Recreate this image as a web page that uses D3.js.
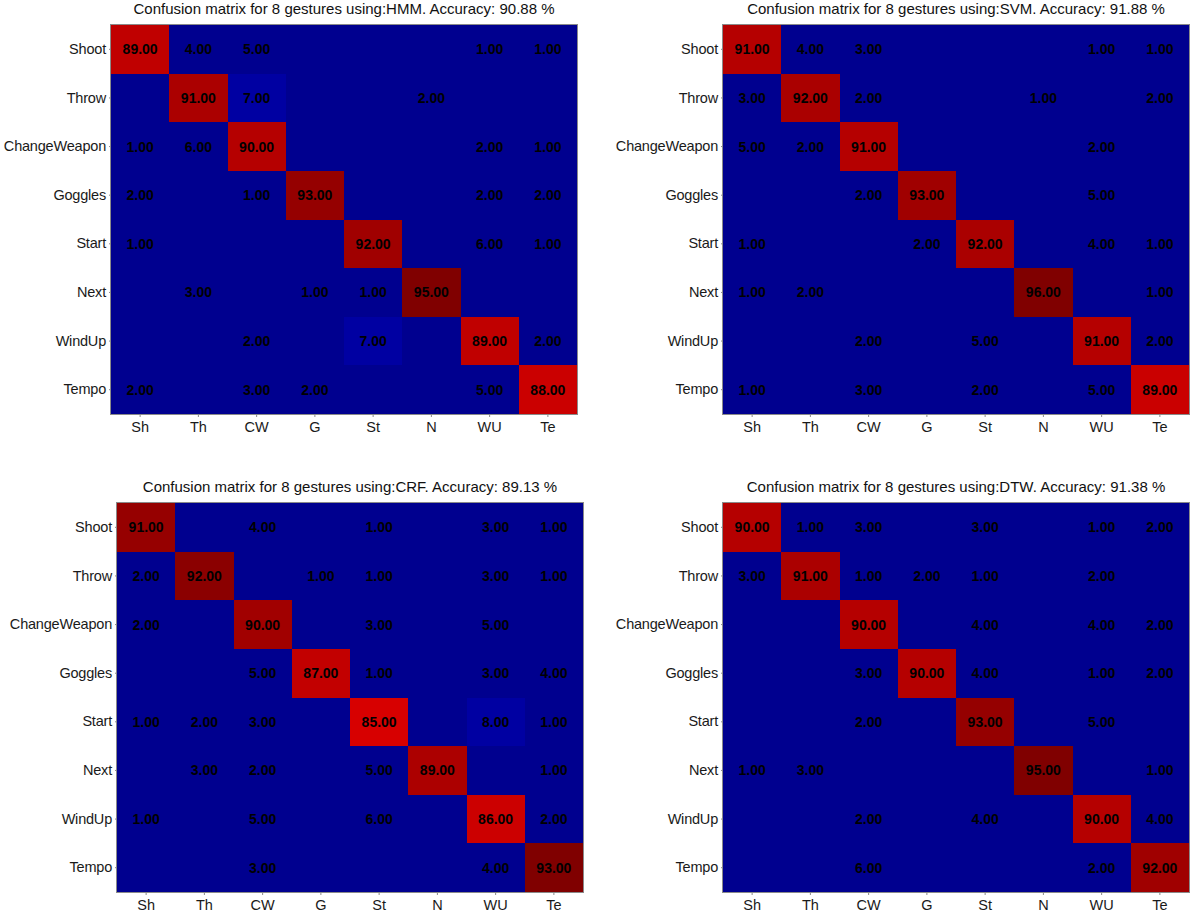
<!DOCTYPE html>
<html>
<head>
<meta charset="utf-8">
<script src="https://cdn.jsdelivr.net/npm/d3@7"></script>
<style>
  body { margin: 0; background: #fff; }
  svg { display: block; font-family: "Liberation Sans", Arial, sans-serif; }
</style>
</head>
<body>
<div id="chart"></div>
<script>
// gesture names (rows) and short names (columns)
const rowLabels = ["Shoot", "Throw", "ChangeWeapon", "Goggles", "Start", "Next", "WindUp", "Tempo"];
const colLabels = ["Sh", "Th", "CW", "G", "St", "N", "WU", "Te"];

const methods = ["HMM", "SVM", "CRF", "DTW"];
const accuracies = [90.88, 91.88, 89.13, 91.38];

// confusion matrices, rows = true gesture, values in %
const hmm = [
  [89, 4, 5, 0, 0, 0, 1, 1],
  [0, 91, 7, 0, 0, 2, 0, 0],
  [1, 6, 90, 0, 0, 0, 2, 1],
  [2, 0, 1, 93, 0, 0, 2, 2],
  [1, 0, 0, 0, 92, 0, 6, 1],
  [0, 3, 0, 1, 1, 95, 0, 0],
  [0, 0, 2, 0, 7, 0, 89, 2],
  [2, 0, 3, 2, 0, 0, 5, 88]
];
const svm = [
  [91, 4, 3, 0, 0, 0, 1, 1],
  [3, 92, 2, 0, 0, 1, 0, 2],
  [5, 2, 91, 0, 0, 0, 2, 0],
  [0, 0, 2, 93, 0, 0, 5, 0],
  [1, 0, 0, 2, 92, 0, 4, 1],
  [1, 2, 0, 0, 0, 96, 0, 1],
  [0, 0, 2, 0, 5, 0, 91, 2],
  [1, 0, 3, 0, 2, 0, 5, 89]
];
const crf = [
  [91, 0, 4, 0, 1, 0, 3, 1],
  [2, 92, 0, 1, 1, 0, 3, 1],
  [2, 0, 90, 0, 3, 0, 5, 0],
  [0, 0, 5, 87, 1, 0, 3, 4],
  [1, 2, 3, 0, 85, 0, 8, 1],
  [0, 3, 2, 0, 5, 89, 0, 1],
  [1, 0, 5, 0, 6, 0, 86, 2],
  [0, 0, 3, 0, 0, 0, 4, 93]
];
const dtw = [
  [90, 1, 3, 0, 3, 0, 1, 2],
  [3, 91, 1, 2, 1, 0, 2, 0],
  [0, 0, 90, 0, 4, 0, 4, 2],
  [0, 0, 3, 90, 4, 0, 1, 2],
  [0, 0, 2, 0, 93, 0, 5, 0],
  [1, 3, 0, 0, 0, 95, 0, 1],
  [0, 0, 2, 0, 4, 0, 90, 4],
  [0, 0, 6, 0, 0, 0, 2, 92]
];
const matrices = [hmm, svm, crf, dtw];

const W = 1192, H = 913;
const plotW = 466, plotH = 389;
// top-left corner of each plot area
const origins = [[111, 25], [723, 25], [117, 503], [723, 503]];

const svg = d3.select("#chart").append("svg")
  .attr("width", W)
  .attr("height", H);

const drawPanel = (idx) => {
  const data = matrices[idx];
  const [ox, oy] = origins[idx];
  const maxValue = d3.max(data.flat());

  // jet-like colours, scaled per panel by its max
  const blue = d3.scaleThreshold().domain([0.07]).range(["#00008f", "#0000a2"]);
  const red = d3.scaleLinear().domain([0.875, 1]).range(["#ff0000", "#800000"]).clamp(true);
  const color = (v) => {
    const t = v / maxValue;
    return t < 0.5 ? blue(t) : red(t);
  };

  const x = d3.scaleBand().domain(colLabels).range([0, plotW]);
  const y = d3.scaleBand().domain(rowLabels).range([0, plotH]);

  const g = svg.append("g").attr("transform", `translate(${ox},${oy})`);

  const cells = [];
  data.forEach((row, i) => row.forEach((v, j) => cells.push({ r: rowLabels[i], c: colLabels[j], v })));

  // background first so no seams show between cells
  g.append("rect")
    .attr("width", plotW)
    .attr("height", plotH)
    .attr("fill", color(0))
    .attr("shape-rendering", "crispEdges");

  g.selectAll("rect.cell")
    .data(cells.filter((d) => d.v / maxValue >= 0.07))
    .enter()
    .append("rect")
    .attr("class", "cell")
    .attr("x", (d) => x(d.c))
    .attr("y", (d) => y(d.r))
    .attr("width", x.bandwidth())
    .attr("height", y.bandwidth())
    .attr("shape-rendering", "crispEdges")
    .attr("fill", (d) => color(d.v));

  g.selectAll("text.val")
    .data(cells.filter((d) => d.v > 0))
    .enter()
    .append("text")
    .attr("class", "val")
    .attr("x", (d) => x(d.c) + x.bandwidth() / 2)
    .attr("y", (d) => y(d.r) + y.bandwidth() / 2)
    .attr("dy", "0.36em")
    .attr("text-anchor", "middle")
    .style("font-size", "14px")
    .style("font-weight", "bold")
    .style("fill", "#000")
    .text((d) => d.v.toFixed(2));

  // frame
  g.append("rect")
    .attr("x", -0.5)
    .attr("y", -0.5)
    .attr("width", plotW + 1)
    .attr("height", plotH + 1)
    .attr("fill", "none")
    .attr("stroke", "#8a8a8a")
    .attr("stroke-width", 1);

  const xAxis = g.append("g")
    .attr("transform", `translate(0,${plotH})`)
    .call(d3.axisBottom(x).tickSize(3).tickPadding(4.5).tickSizeOuter(0));
  const yAxis = g.append("g")
    .call(d3.axisLeft(y).tickSize(2).tickPadding(3).tickSizeOuter(0));

  [xAxis, yAxis].forEach((a) => {
    a.select(".domain").remove();
    a.selectAll("line").attr("stroke", "#8a8a8a");
    a.selectAll("text")
      .style("font-size", "14.5px")
      .style("font-family", "'Liberation Sans', Arial, sans-serif")
      .style("fill", "#1a1a1a");
  });
  yAxis.selectAll("text").style("letter-spacing", "-0.2px");

  g.append("text")
    .attr("x", plotW / 2)
    .attr("y", -11.5)
    .attr("text-anchor", "middle")
    .style("font-size", "15px")
    .style("fill", "#111")
    .text(`Confusion matrix for 8 gestures using:${methods[idx]}. Accuracy: ${accuracies[idx].toFixed(2)} %`);
};

methods.forEach((m, i) => drawPanel(i));
</script>
</body>
</html>
